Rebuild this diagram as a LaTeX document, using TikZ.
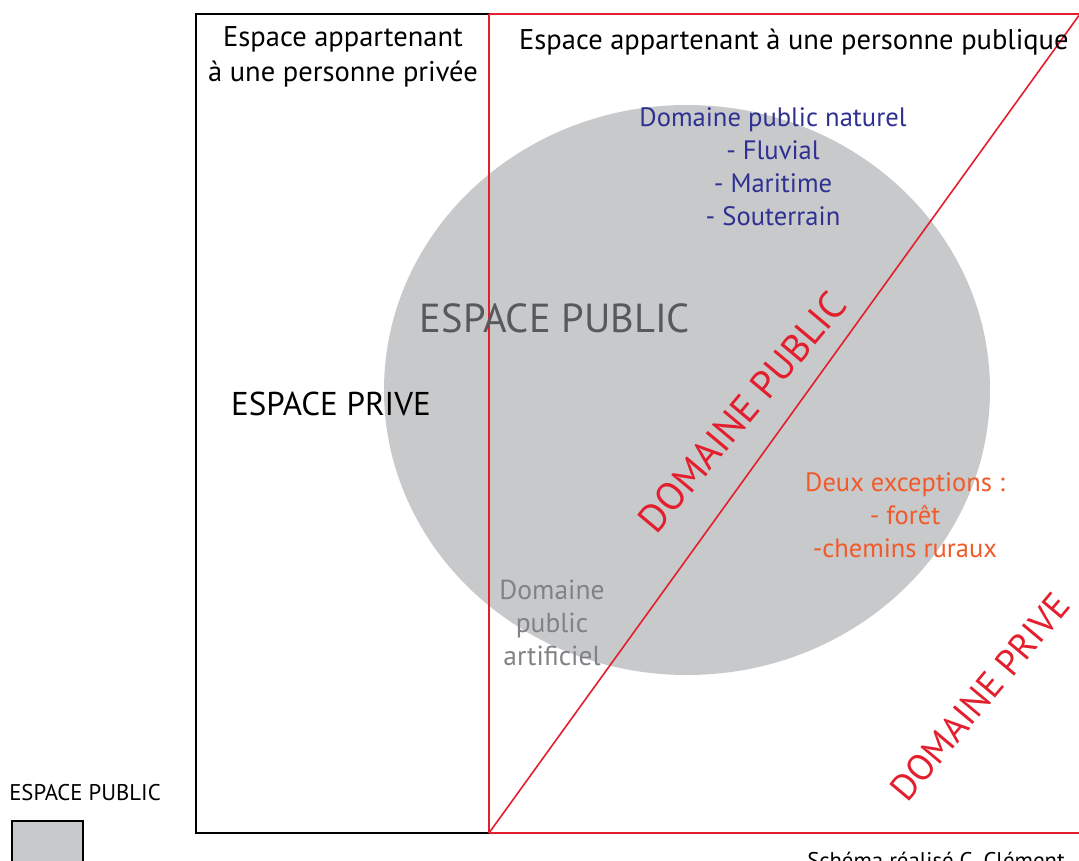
\documentclass[tikz,border=0pt]{standalone}
\usepackage{fontspec}
\setmainfont{PT Sans}
\usepackage{xcolor}
\usetikzlibrary{positioning}
\definecolor{dpgray}{HTML}{C8C9CB}
\definecolor{dpred}{HTML}{E31E2D}
\definecolor{dpblue}{HTML}{2E3192}
\definecolor{dporange}{HTML}{F15A29}
\definecolor{dpdark}{HTML}{58595B}
\definecolor{dplight}{HTML}{808285}

\begin{document}
\begin{tikzpicture}[x=1pt, y=-1pt,
    every node/.style={inner sep=0pt, align=center},
    txt/.style={font=\fontsize{28.5}{35}\selectfont},
    redline/.style={draw=dpred, line width=1.6pt},
    blackline/.style={draw=black, line width=1.8pt}]
    \useasboundingbox (0,0) rectangle (1079,861);
    \clip (0,0) rectangle (1079,861);

    % corners
    \coordinate (tl) at (196,14);
    \coordinate (bl) at (196,833);
    \coordinate (tm) at (489,14);
    \coordinate (bm) at (489,833);
    \coordinate (tr) at (1095,14);
    \coordinate (br) at (1095,833);
    \coordinate (diag) at (1080,14);

    \fill[dpgray] (687,390) ellipse [x radius=303pt, y radius=285pt];

    \draw[blackline] (tm) -- (tl) -- (bl) -- (bm);
    \draw[redline] (tm) -- (bm);
    \draw[redline] (tm) -- (tr);
    \draw[redline] (bm) -- (br);
    \draw[redline] (bm) -- (diag);

    \node (privetitle) [txt] at (343,57) {Espace appartenant\\à une personne privée};
    \node (publictitle) [txt, anchor=west] at (519,42) {Espace appartenant à une personne publique};
    \node (naturel) [text=dpblue, font=\fontsize{26.6}{33}\selectfont] at (773,167) {Domaine public naturel\\- Fluvial\\- Maritime\\- Souterrain};
    \node (espub) [text=dpdark, font=\fontsize{40.5}{40}\selectfont] at (555,318) {ESPACE PUBLIC};
    \node (espriv) [font=\fontsize{33}{33}\selectfont] at (331,404) {ESPACE PRIVE};
    \node (dompub) [text=dpred, rotate=50, font=\fontsize{39}{39}\selectfont] at (742,412) {DOMAINE PUBLIC};
    \node (except) [text=dporange, font=\fontsize{26.5}{33}\selectfont] at (905,515) {Deux exceptions :\\- forêt\\-chemins ruraux};
    \node (artif) [text=dplight, font=\fontsize{27.5}{33}\selectfont] at (552,623) {Domaine\\public\\artificiel};
    \node (dompriv) [text=dpred, rotate=50, font=\fontsize{36.6}{36}\selectfont] at (980,697) {DOMAINE PRIVE};

    % legend
    \node (legtext) [font=\fontsize{22.7}{22}\selectfont] at (85,793) {ESPACE PUBLIC};
    \draw[fill=dpgray, line width=1.8pt] (12,821) rectangle (83,880);
    \node (credit) [font=\fontsize{22.7}{22}\selectfont] at (936,860) {Schéma réalisé C. Clément};
\end{tikzpicture}
\end{document}
